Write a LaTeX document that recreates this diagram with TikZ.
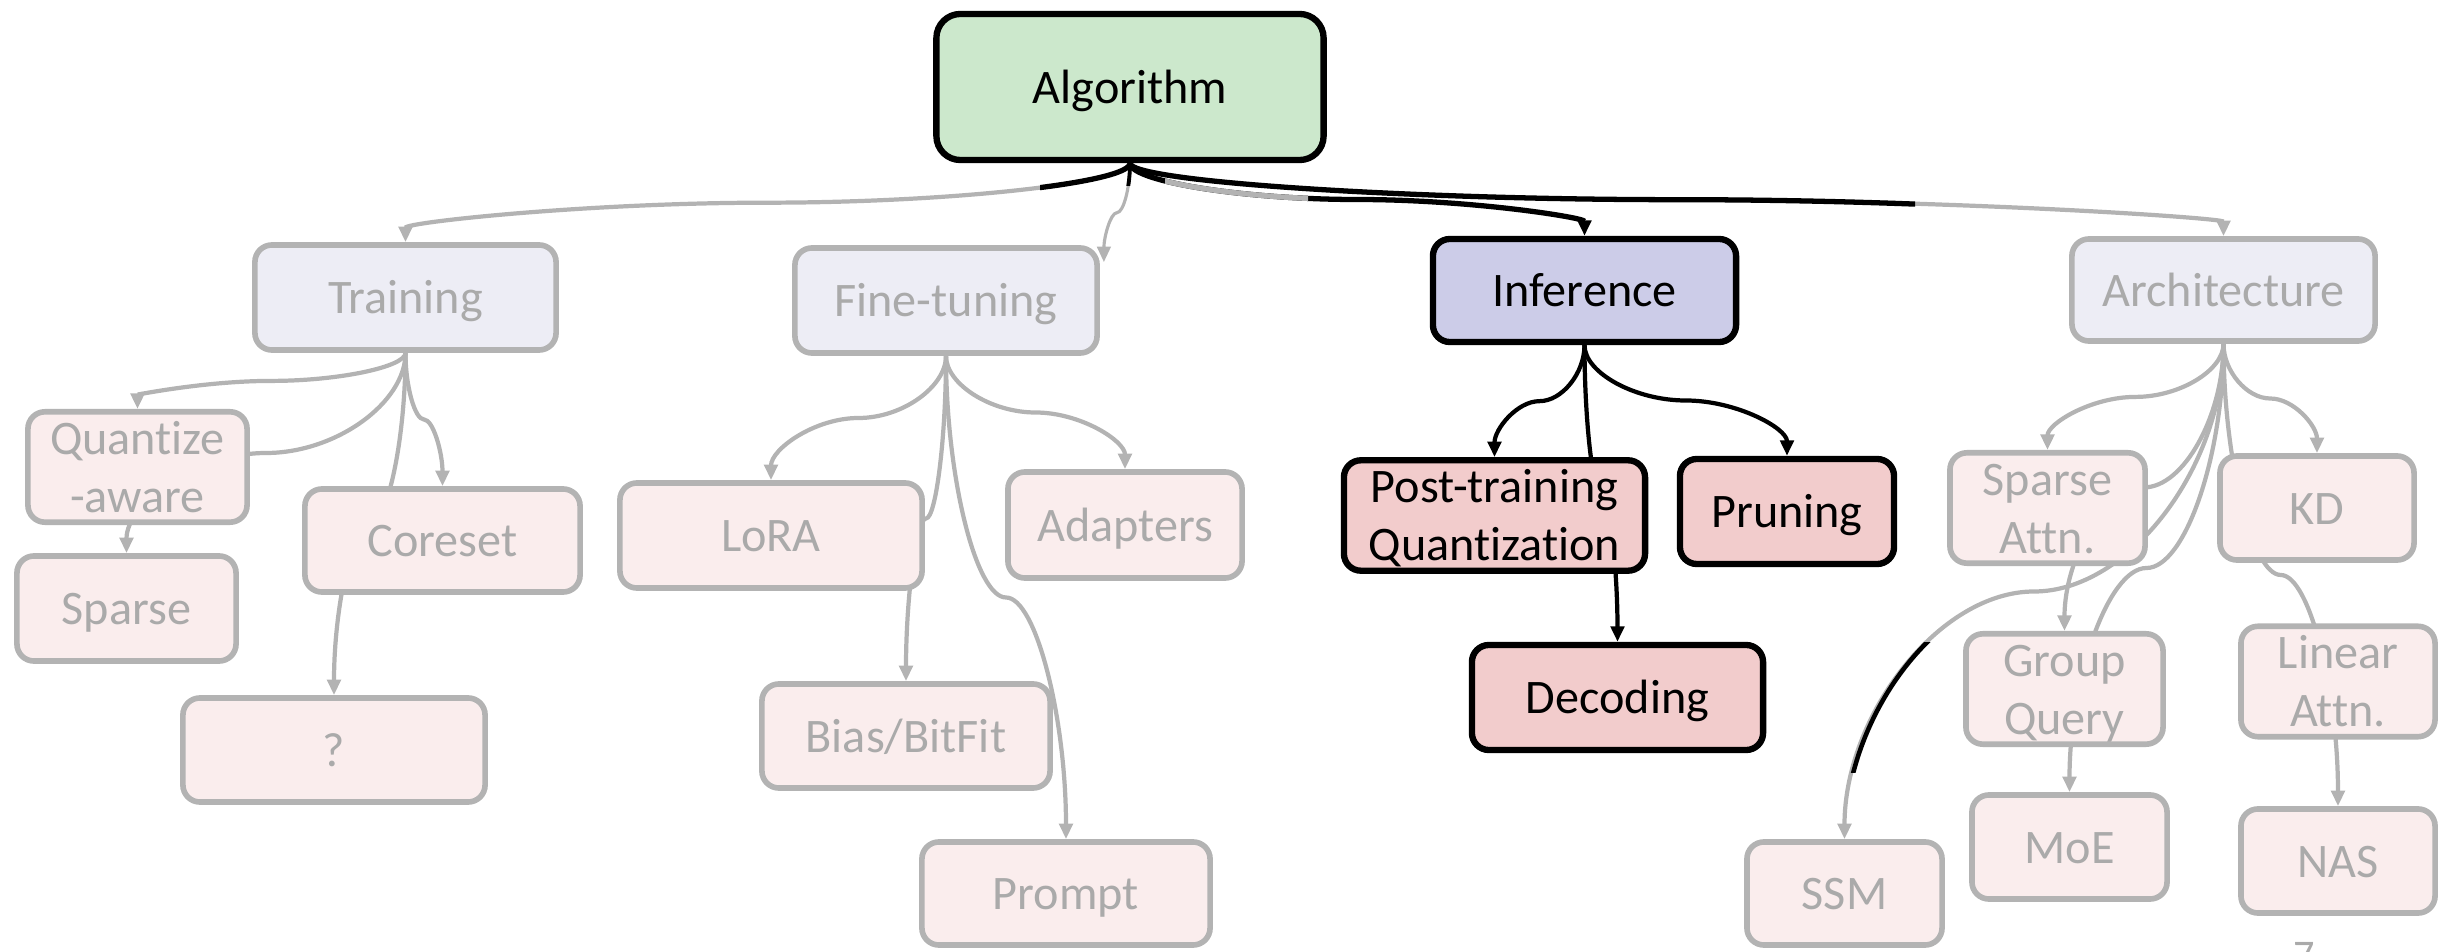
\documentclass[tikz,border=0pt]{standalone}
\usepackage{fontspec}
\setmainfont{Carlito}[Ligatures={NoCommon,NoRequired,NoContextual},Contextuals=NoAlternate]
\usetikzlibrary{arrows.meta,calc}

\definecolor{lineg}{RGB}{179,179,179}
\definecolor{textg}{RGB}{170,170,170}
\definecolor{lavl}{RGB}{237,237,245}
\definecolor{pinkl}{RGB}{250,237,237}
\definecolor{greenm}{RGB}{204,232,204}
\definecolor{lavm}{RGB}{204,204,232}
\definecolor{pinkm}{RGB}{242,204,204}

\pgfdeclarelayer{links}
\pgfsetlayers{links,main}

% S-shaped connector: leaves downwards, runs level at half height, enters downwards
\newcommand\sconn[3][]{%
  \draw[#1] let \p1=(#2), \p2=(#3), \p3=($(\p1)!0.5!(\p2)$) in
    (\p1) .. controls (\x1,{0.5*(\y1+\y3)}) and ({0.75*\x1+0.25*\x2},\y3) .. (\p3)
          .. controls ({0.25*\x1+0.75*\x2},\y3) and (\x2,{0.5*(\y3+\y2)}) .. (\p2);}

\tikzset{
  box/.style={rectangle, rounded corners=0.17cm, inner sep=0pt, align=center,
              font=\fontsize{13.7}{16.5}\selectfont, text height=12.1pt, text depth=2.8pt},
  twolines/.style={text height=28.6pt, text depth=2.8pt},
  sz/.style 2 args={minimum width=#1cm, minimum height=#2cm},
  rootbox/.style={box, rounded corners=0.24cm, draw=black, line width=1.8pt, fill=greenm, text=black},
  hotbranch/.style={box, draw=black, line width=1.8pt, fill=lavm, text=black},
  hotleaf/.style={box, draw=black, line width=1.8pt, fill=pinkm, text=black},
  dimbranch/.style={box, draw=lineg, line width=1.6pt, fill=lavl, text=textg},
  dimleaf/.style={box, draw=lineg, line width=1.6pt, fill=pinkl, text=textg},
  tip/.style={-{Triangle[length=4.4pt,width=3.8pt]}},
  dimlink/.style={draw=lineg, line width=1.2pt},
  hotlink/.style={draw=black, line width=1.2pt},
  toplink/.style={draw=black, line width=1.5pt},
}

\begin{document}
\begin{tikzpicture}[x=0.01cm, y=-0.01cm]
\useasboundingbox (0,0) rectangle (2450,952);

% root
\node[rootbox, sz={3.87}{1.46}] (alg) at (1130,87) {Algorithm};

% second level
\node[dimbranch, sz={3.01}{1.05}] (train) at (405.5,297.5) {Training};
\node[dimbranch, sz={3.02}{1.05}] (ft) at (946,300.5) {Fine-tuning};
\node[hotbranch, sz={3.03}{1.03}] (inf) at (1584.5,290.5) {Inference};
\node[dimbranch, sz={3.03}{1.02}] (arch) at (2223.5,290) {Architecture};

% training
\node[dimleaf, twolines, sz={2.19}{1.04}] (qa) at (137.5,467) {Quantize\\-aware};
\node[dimleaf, sz={2.19}{1.05}] (sparse) at (126.5,608.5) {Sparse};
\node[dimleaf, sz={2.75}{1.03}] (coreset) at (442.5,540.5) {Coreset};
\node[dimleaf, sz={3.02}{1.04}] (unk) at (334,750) {?};

% fine-tuning
\node[dimleaf, sz={3.02}{1.05}] (lora) at (771,535.5) {LoRA};
\node[dimleaf, sz={2.34}{1.06}] (adapt) at (1125,525) {Adapters};
\node[dimleaf, sz={2.88}{1.04}] (bias) at (906,736) {Bias/BitFit};
\node[dimleaf, sz={2.88}{1.03}] (prompt) at (1066,893.5) {Prompt};

% inference
\node[hotleaf, twolines, sz={3.01}{1.07}] (ptq) at (1494.5,515.5) {Post-training\\Quantization};
\node[hotleaf, sz={2.14}{1.05}] (prun) at (1787,511.5) {Pruning};
\node[hotleaf, sz={2.91}{1.05}] (dec) at (1617.5,697.5) {Decoding};

% architecture
\node[dimleaf, twolines, sz={1.95}{1.04}] (sa) at (2047.5,508) {Sparse\\Attn.};
\node[dimleaf, sz={1.94}{1.04}] (kd) at (2317,508) {KD};
\node[dimleaf, twolines, sz={1.97}{1.04}] (gq) at (2064.5,689) {Group\\Query};
\node[dimleaf, twolines, sz={1.94}{1.03}] (la) at (2338,681.5) {Linear\\Attn.};
\node[dimleaf, sz={1.95}{1.03}] (ssm) at (1844.5,893.5) {SSM};
\node[dimleaf, sz={1.95}{1.04}] (moe) at (2069.5,847) {MoE};
\node[dimleaf, sz={1.94}{1.04}] (nas) at (2338,861) {NAS};

% page number
\node[text=textg, font=\fontsize{12}{14}\selectfont, anchor=north, inner sep=0pt] (pg) at (2304,942) {7};

\coordinate (ftin) at ($(ft.north east)+(4,17)$);

\begin{pgfonlayer}{links}
  % from the root
  \sconn[dimlink, tip]{alg.south}{train.north}
  \sconn[dimlink, line width=0.9pt, tip]{alg.south}{ftin}
  \sconn[dimlink, tip]{alg.south}{arch.north}
  \sconn[toplink, tip]{alg.south}{inf.north}
  \begin{scope}
    \clip (1165,140) rectangle (1308,230);
    \sconn[dimlink, line width=1.5pt]{alg.south}{inf.north}
  \end{scope}
  \begin{scope}
    \clip (1040,140) rectangle (1131,260);
    \sconn[toplink]{alg.south}{train.north}
  \end{scope}
  \begin{scope}
    \clip (1100,140) rectangle (1160,186);
    \sconn[toplink, line width=1.1pt]{alg.south}{ftin}
  \end{scope}
  \begin{scope}
    \clip (1129,140) rectangle (1915,260);
    \sconn[toplink]{alg.south}{arch.north}
  \end{scope}

  % training
  \sconn[dimlink, tip]{train.south}{qa.north}
  \sconn[dimlink, tip]{train.south}{sparse.north}
  \sconn[dimlink, tip]{train.south}{coreset.north}
  \sconn[dimlink, tip]{train.south}{unk.north}

  % fine-tuning
  \sconn[dimlink, tip]{ft.south}{lora.north}
  \sconn[dimlink, tip]{ft.south}{adapt.north}
  \sconn[dimlink, tip]{ft.south}{bias.north}
  \sconn[dimlink, tip]{ft.south}{prompt.north}

  % inference
  \sconn[hotlink, tip]{inf.south}{ptq.north}
  \sconn[hotlink, tip]{inf.south}{prun.north}
  \sconn[hotlink, tip]{inf.south}{dec.north}

  % architecture
  \sconn[dimlink, tip]{arch.south}{sa.north}
  \sconn[dimlink, tip]{arch.south}{kd.north}
  \sconn[dimlink, tip]{arch.south}{gq.north}
  \sconn[dimlink, tip]{arch.south}{ssm.north}
  \sconn[dimlink, tip]{arch.south}{moe.north}
  \sconn[dimlink, tip]{arch.south}{nas.north}
  \begin{scope}
    \clip (1800,643) rectangle (1960,773);
    \sconn[hotlink, line width=1.3pt]{arch.south}{ssm.north}
  \end{scope}
\end{pgfonlayer}
\end{tikzpicture}
\end{document}
